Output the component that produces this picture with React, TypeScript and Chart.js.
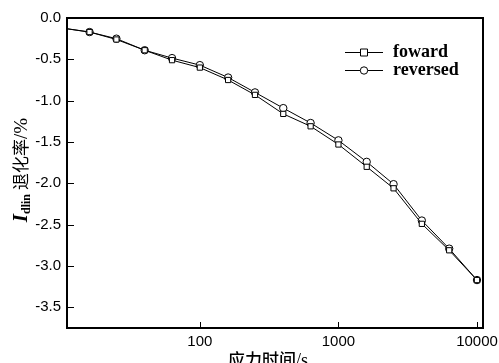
import React, { useEffect, useRef } from "react";
import { Chart, registerables } from "chart.js";

Chart.register(...registerables);

const stressTime = [10, 16, 25, 40, 63, 100, 160, 250, 400, 630, 1000, 1600, 2500, 4000, 6300, 10000];
const forward = [-0.12, -0.17, -0.26, -0.39, -0.51, -0.6, -0.75, -0.93, -1.16, -1.31, -1.53, -1.8, -2.06, -2.49, -2.81, -3.17];
const reversed = [-0.12, -0.17, -0.25, -0.39, -0.485, -0.57, -0.72, -0.9, -1.09, -1.27, -1.48, -1.74, -2.01, -2.45, -2.79, -3.17];
const xTicks = [100, 1000, 10000];
const yTicks = [0, -0.5, -1, -1.5, -2, -2.5, -3, -3.5];
const seriesNames = ["foward", "reversed"];
const xTitleMain = "应力时间";
const xTitleUnit = "/s";
const yTitleMain = "I";
const yTitleSub = "dlin";
const yTitleRest = "退化率";
const yTitleUnit = "/%";

const CJK = '"Noto Sans CJK SC", sans-serif';
const SERIF = '"Liberation Serif", serif';

const decorPlugin = {
  id: "decor",
  afterDraw(chart: any) {
    const { ctx, chartArea: a, scales } = chart;
    const L = Math.round(a.left), R = Math.round(a.right), T = Math.round(a.top), B = Math.round(a.bottom);
    ctx.save();
    ctx.fillStyle = "#000";
    // inward ticks
    for (const v of yTicks) {
      const y = Math.round(scales.y.getPixelForValue(v));
      ctx.fillRect(L, y, 7, 1);
    }
    for (const v of xTicks) {
      const x = Math.round(scales.x.getPixelForValue(v));
      ctx.fillRect(x, B - 6, 1, 6);
    }

    // legend
    ctx.strokeStyle = "#000";
    ctx.lineWidth = 1;
    const lx0 = 345, lx1 = 383, rows = [52, 70];
    rows.forEach((ry, i) => {
      ctx.beginPath();
      ctx.moveTo(lx0, ry + 0.5);
      ctx.lineTo(lx1, ry + 0.5);
      ctx.stroke();
      const cx = (lx0 + lx1) / 2;
      ctx.fillStyle = "#fff";
      ctx.beginPath();
      if (i === 0) {
        ctx.rect(cx - 3.5, ry - 3, 7, 7);
      } else {
        ctx.arc(cx, ry + 0.5, 3.7, 0, Math.PI * 2);
      }
      ctx.fill();
      ctx.stroke();
      ctx.fillStyle = "#000";
      ctx.font = "bold 18px " + SERIF;
      ctx.textBaseline = "middle";
      ctx.textAlign = "left";
      ctx.fillText(seriesNames[i], 393, ry);
    });

    // x title
    ctx.fillStyle = "#000";
    ctx.textBaseline = "alphabetic";
    ctx.textAlign = "left";
    ctx.font = "500 17px " + CJK;
    const wx1 = ctx.measureText(xTitleMain).width;
    ctx.font = "18px " + SERIF;
    const wx2 = ctx.measureText(xTitleUnit).width;
    const xx = 268 - (wx1 + wx2) / 2;
    ctx.font = "500 17px " + CJK;
    ctx.fillText(xTitleMain, xx, 366);
    ctx.font = "18px " + SERIF;
    ctx.fillText(xTitleUnit, xx + wx1, 366);

    // y title (rotated)
    ctx.translate(20, 170);
    ctx.rotate(-Math.PI / 2);
    const base = 7;
    ctx.font = "italic bold 21px " + SERIF;
    const wI = ctx.measureText(yTitleMain).width;
    ctx.font = "bold 12px " + SERIF;
    const wSub = ctx.measureText(yTitleSub).width;
    ctx.font = "17px " + CJK;
    const wRest = ctx.measureText(yTitleRest).width;
    ctx.font = "19px " + SERIF;
    const wUnit = ctx.measureText(yTitleUnit).width;
    const total = wI + wSub + 4 + wRest + wUnit;
    let x = -total / 2;
    ctx.font = "italic bold 21px " + SERIF;
    ctx.fillText(yTitleMain, x, base);
    x += wI;
    ctx.font = "bold 12px " + SERIF;
    ctx.fillText(yTitleSub, x, base + 3);
    x += wSub + 4;
    ctx.font = "17px " + CJK;
    ctx.fillText(yTitleRest, x, base);
    x += wRest;
    ctx.font = "19px " + SERIF;
    ctx.fillText(yTitleUnit, x, base);
    ctx.restore();

    // frame, drawn last
    ctx.save();
    ctx.setTransform(1, 0, 0, 1, 0, 0);
    ctx.globalAlpha = 1;
    ctx.globalCompositeOperation = "source-over";
    ctx.fillStyle = "rgb(0,0,0)";
    ctx.fillRect(L - 1, T - 1, R - L + 2, 2);
    ctx.fillRect(L - 1, B - 1, R - L + 2, 2);
    ctx.fillRect(L - 1, T - 1, 2, B - T + 1);
    ctx.fillRect(R - 1, T - 1, 2, B - T + 1);
    ctx.restore();
  },
};

export default function App() {
  const ref = useRef<HTMLCanvasElement>(null);
  useEffect(() => {
    const ctx = ref.current!.getContext("2d")!;
    const mk = (arr: number[]) => stressTime.map((t, i) => ({ x: t, y: arr[i] }));
    const radii = stressTime.map((_, i) => (i === 0 ? 0 : 3.7));
    const chart = new Chart(ctx, {
      type: "line",
      data: {
        datasets: [
          { label: seriesNames[0], data: mk(forward), borderColor: "#000", borderWidth: 1, pointStyle: "rect", pointRadius: radii, pointBorderColor: "#000", pointBackgroundColor: "#fff", pointBorderWidth: 1 },
          { label: seriesNames[1], data: mk(reversed), borderColor: "#000", borderWidth: 1, pointStyle: "circle", pointRadius: radii, pointBorderColor: "#000", pointBackgroundColor: "#fff", pointBorderWidth: 1 },
        ],
      },
      options: {
        animation: false,
        responsive: false,
        maintainAspectRatio: false,
        layout: { padding: { left: 0, right: 16, top: 18, bottom: 0 } },
        plugins: { legend: { display: false }, tooltip: { enabled: false } },
        scales: {
          x: {
            type: "logarithmic", min: 11, max: 11050,
            grid: { display: false, drawTicks: false, tickLength: 0 },
            border: { display: false },
            afterBuildTicks: (s: any) => { s.ticks = xTicks.map((v) => ({ value: v })); },
            afterFit: (s: any) => { s.height = 35; s.paddingLeft = 0; s.paddingRight = 0; },
            ticks: { color: "#000", padding: 5, maxRotation: 0, autoSkip: false, font: { family: '"Liberation Sans", Arial, sans-serif', size: 15 }, callback: (v: any) => String(v) },
          },
          y: {
            type: "linear", min: -3.75, max: 0,
            grid: { display: false, drawTicks: false, tickLength: 0 },
            border: { display: false },
            afterBuildTicks: (s: any) => { s.ticks = yTicks.map((v) => ({ value: v })); },
            afterFit: (s: any) => { s.width = 67; s.paddingTop = 0; s.paddingBottom = 0; },
            ticks: { color: "#000", padding: 6, autoSkip: false, font: { family: '"Liberation Sans", Arial, sans-serif', size: 15 }, callback: (v: any) => Number(v).toFixed(1) },
          },
        },
      },
      plugins: [decorPlugin],
    });
    return () => chart.destroy();
  }, []);
  return (
    <div style={{ position: "fixed", left: 0, top: 0, width: 499, height: 363, background: "#fff" }}>
      <canvas ref={ref} width={499} height={363} style={{ width: 499, height: 363 }} />
    </div>
  );
}
